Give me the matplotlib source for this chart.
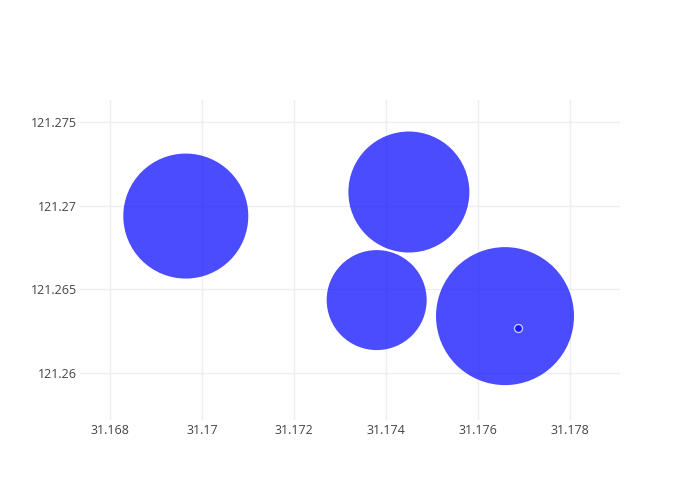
import matplotlib.pyplot as plt
import numpy as np

plt.rcParams['font.family'] = ['Open Sans', 'DejaVu Sans']

# 数据 (经度/纬度 与 气泡直径 px)
lat = [31.16965, 31.1745, 31.1738, 31.17659, 31.17687]
lon = [121.26937, 121.27081, 121.26434, 121.26338, 121.26266]
diam = [125, 121, 100, 138, 8]

fig = plt.figure(figsize=(7, 5), dpi=100)
ax = fig.add_axes([80 / 700, 80 / 500, 540 / 700, 320 / 500])

sizes = [(d * 0.72) ** 2 for d in diam]
# 大气泡
ax.scatter(lat[:4], lon[:4], s=sizes[:4], c='#0000ff', alpha=0.7,
           linewidths=0, zorder=3)
# 小点 (白色描边)
ax.scatter(lat[4:], lon[4:], s=sizes[4:], c='#0000ff', alpha=0.7,
           edgecolors='white', linewidths=1.0, zorder=4)

ax.set_xlim(31.16735, 31.17909)
ax.set_ylim(121.25716, 121.27632)
ax.set_xticks([31.168, 31.17, 31.172, 31.174, 31.176, 31.178])
ax.set_xticklabels(['31.168', '31.17', '31.172', '31.174', '31.176', '31.178'])
ax.set_yticks([121.26, 121.265, 121.27, 121.275])
ax.set_yticklabels(['121.26', '121.265', '121.27', '121.275'])

ax.grid(True, color='#eeeeee', linewidth=1, zorder=0)
ax.set_axisbelow(True)
for s in ax.spines.values():
    s.set_visible(False)
ax.tick_params(length=0, labelsize=9, colors='#444444')
ax.tick_params(axis='x', pad=3)
ax.tick_params(axis='y', pad=2)

plt.savefig('out.png', dpi=100)
